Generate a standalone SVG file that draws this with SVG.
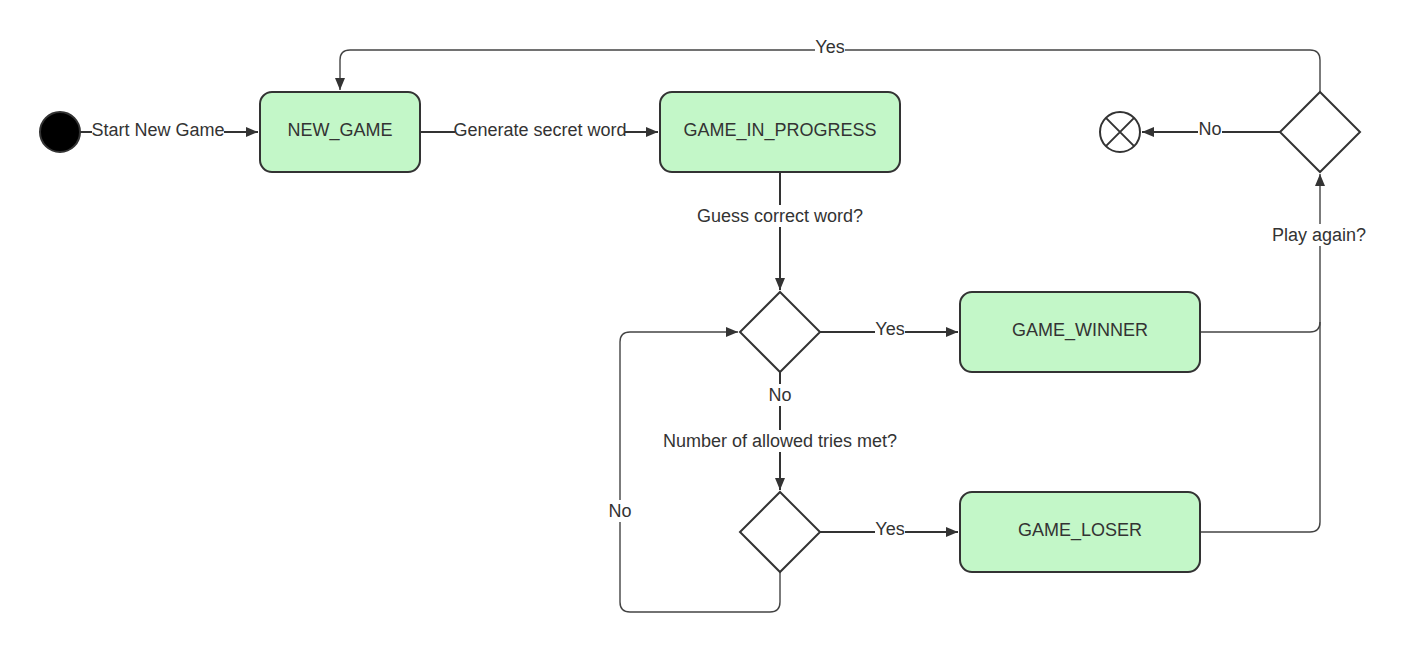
<svg xmlns="http://www.w3.org/2000/svg" width="1407" height="654" viewBox="0 0 1407 654">
<style>
.st{fill:#c3f7c8;stroke:#333;stroke-width:2}
.dm{fill:#fff;stroke:#333;stroke-width:2}
.t{font-family:"Liberation Sans",Arial,sans-serif;font-size:18px;fill:#333;text-anchor:middle;dominant-baseline:central}
.c{fill:none;stroke:#333;stroke-width:2}
.c2{fill:none;stroke:#444;stroke-width:1.4}
.bg{fill:#fff}
</style>
<defs>
<marker id="a" viewBox="0 0 12 10" refX="12" refY="5" markerWidth="12" markerHeight="10" markerUnits="userSpaceOnUse" orient="auto">
<path d="M0,0 L12,5 L0,10 z" fill="#333"/>
</marker>
</defs>
<rect width="1407" height="654" fill="#fff"/>
<g id="connectors">
<path class="c" d="M80,132 H258" marker-end="url(#a)"/>
<path class="c" d="M420,132 H658" marker-end="url(#a)"/>
<path class="c" d="M780,172 V290" marker-end="url(#a)"/>
<path class="c" d="M820,332 H958" marker-end="url(#a)"/>
<path class="c" d="M780,372 V490" marker-end="url(#a)"/>
<path class="c" d="M820,532 H958" marker-end="url(#a)"/>
<path class="c2" d="M780,572 V602 Q780,612 770,612 H630 Q620,612 620,602 V342 Q620,332 630,332 H738" marker-end="url(#a)"/>
<path class="c2" d="M1200,332 H1310 Q1320,332 1320,322 V174" marker-end="url(#a)"/>
<path class="c2" d="M1200,532 H1310 Q1320,532 1320,522 V322"/>
<path class="c" d="M1280,132 H1142" marker-end="url(#a)"/>
<path class="c2" d="M1320,92 V60 Q1320,50 1310,50 H350 Q340,50 340,60 V90" marker-end="url(#a)"/>
<rect class="bg" x="92" y="120" width="132" height="22"/>
<text class="t" x="158" y="130">Start New Game</text>
<rect class="bg" x="455" y="120" width="170" height="22"/>
<text class="t" x="540" y="130">Generate secret word</text>
<rect class="bg" x="697" y="205" width="166" height="22"/>
<text class="t" x="780" y="216">Guess correct word?</text>
<rect class="bg" x="875" y="319" width="30" height="22"/>
<text class="t" x="890" y="329">Yes</text>
<rect class="bg" x="767" y="384" width="26" height="22"/>
<text class="t" x="780" y="395">No</text>
<rect class="bg" x="663" y="430" width="234" height="22"/>
<text class="t" x="780" y="441">Number of allowed tries met?</text>
<rect class="bg" x="875" y="519" width="30" height="22"/>
<text class="t" x="890" y="529">Yes</text>
<rect class="bg" x="607" y="500" width="26" height="22"/>
<text class="t" x="620" y="511">No</text>
<rect class="bg" x="1271" y="224" width="96" height="22"/>
<text class="t" x="1319" y="235">Play again?</text>
<rect class="bg" x="1198" y="119" width="24" height="22"/>
<text class="t" x="1210" y="129">No</text>
<rect class="bg" x="815" y="37" width="30" height="22"/>
<text class="t" x="830" y="47">Yes</text>
</g>
<g id="start"><circle cx="60" cy="132" r="20" fill="#000" stroke="#333" stroke-width="2"/></g>
<g id="new_game"><rect class="st" x="260" y="92" width="160" height="80" rx="12"/><text class="t" x="340" y="130">NEW_GAME</text></g>
<g id="game_in_progress"><rect class="st" x="660" y="92" width="240" height="80" rx="12"/><text class="t" x="780" y="130">GAME_IN_PROGRESS</text></g>
<g id="decision_guess"><path class="dm" d="M780,292 L820,332 L780,372 L740,332 z"/></g>
<g id="decision_tries"><path class="dm" d="M780,492 L820,532 L780,572 L740,532 z"/></g>
<g id="game_winner"><rect class="st" x="960" y="292" width="240" height="80" rx="12"/><text class="t" x="1080" y="330">GAME_WINNER</text></g>
<g id="game_loser"><rect class="st" x="960" y="492" width="240" height="80" rx="12"/><text class="t" x="1080" y="530">GAME_LOSER</text></g>
<g id="decision_play"><path class="dm" d="M1320,92 L1360,132 L1320,172 L1280,132 z"/></g>
<g id="end"><circle cx="1120" cy="132" r="20" fill="#fff" stroke="#333" stroke-width="2"/><path d="M1105.9,117.9 L1134.1,146.1 M1134.1,117.9 L1105.9,146.1" stroke="#333" stroke-width="2"/></g>
</svg>
